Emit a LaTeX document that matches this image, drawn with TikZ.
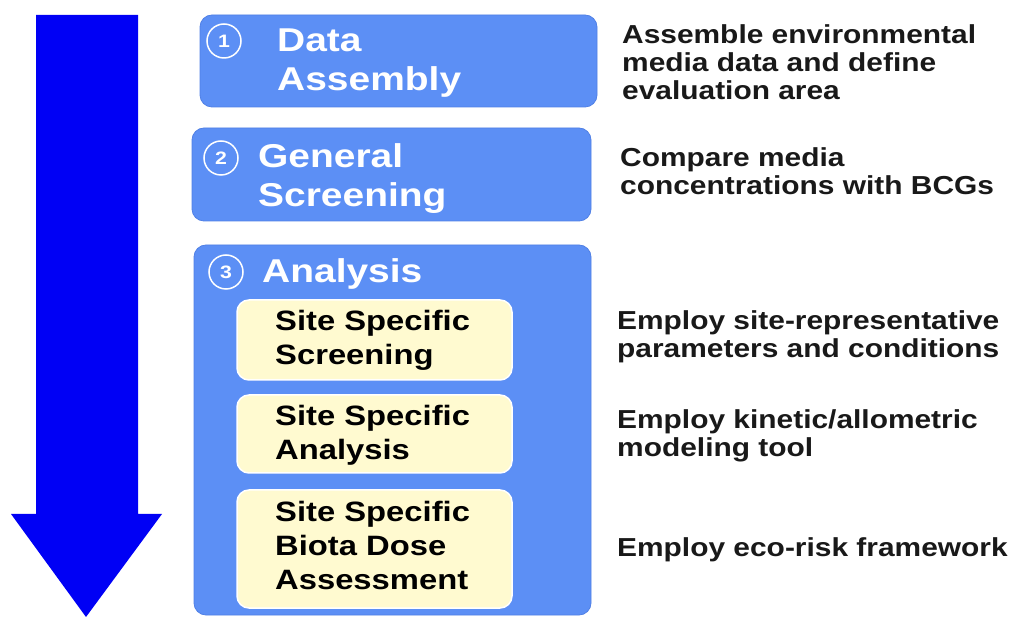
\documentclass[tikz,border=0pt]{standalone}
\usepackage{fontspec}
\newfontfamily\titlefont[FakeStretch=1.18]{Liberation Sans}
\newfontfamily\yelfont[FakeStretch=1.17]{Liberation Sans}
\newfontfamily\descfont[FakeStretch=1.15]{Liberation Sans}
\definecolor{boxblue}{RGB}{92,143,245}
\definecolor{boxedge}{RGB}{80,128,230}
\definecolor{yelfill}{RGB}{255,250,208}
\definecolor{arrowblue}{RGB}{0,0,245}
\definecolor{desctext}{RGB}{25,25,25}
\tikzset{
  bluebox/.style={fill=boxblue, draw=boxedge, line width=0.8pt, rounded corners=12pt},
  yelbox/.style={fill=yelfill, draw=white, line width=1.5pt, rounded corners=12pt},
  title/.style={anchor=base west, inner sep=0pt, align=left, text=white,
    font=\titlefont\bfseries\fontsize{33}{39}\selectfont},
  yeltext/.style={anchor=base west, inner sep=0pt, align=left, text=black,
    font=\yelfont\bfseries\fontsize{28}{34}\selectfont},
  desc/.style={anchor=base west, inner sep=0pt, align=left, text=desctext,
    font=\descfont\bfseries\fontsize{26}{28}\selectfont},
  numcirc/.style={circle, draw=white, line width=1.5pt, minimum size=34pt, inner sep=0pt,
    text=white, font=\titlefont\bfseries\fontsize{18}{18}\selectfont}
}
\begin{document}
\begin{tikzpicture}[x=1pt,y=-1pt]
\useasboundingbox (0,0) rectangle (1013,617);
\fill[white] (0,0) rectangle (1013,617);
% big arrow
\fill[arrowblue] (36,15) -- (138,15) -- (138,514) -- (162,514) -- (86,617)
  -- (11,514) -- (36,514) -- cycle;
% step boxes
\draw[bluebox] (200,15) rectangle (597,107);
\draw[bluebox] (192,128) rectangle (591,221);
\draw[bluebox] (194,245) rectangle (591,615);
\draw[yelbox] (237,300) rectangle (512,380);
\draw[yelbox] (237,395) rectangle (512,473);
\draw[yelbox] (237,490) rectangle (512,608);
% numbers
\node[numcirc] (c1) at (224,41) {1};
\node[numcirc] (c2) at (221,158) {2};
\node[numcirc] (c3) at (226,272) {3};
% titles (anchor = baseline of last line)
\node[title] (t1) at (277,91) {Data\\Assembly};
\node[title] (t2) at (258,207) {General\\Screening};
\node[title] (t3) at (262,283) {Analysis};
% sub-steps
\node[yeltext] (s1) at (275,365) {Site Specific\\Screening};
\node[yeltext] (s2) at (275,460) {Site Specific\\Analysis};
\node[yeltext] (s3) at (275,590) {Site Specific\\Biota Dose\\Assessment};
% descriptions
\node[desc] (d1) at (622,100) {Assemble environmental\\media data and define\\evaluation area};
\node[desc] (d2) at (620,195) {Compare media\\concentrations with BCGs};
\node[desc] (d3) at (617,358) {Employ site-representative\\parameters and conditions};
\node[desc] (d4) at (617,457) {Employ kinetic/allometric\\modeling tool};
\node[desc] (d5) at (617,557) {Employ eco-risk framework};
\end{tikzpicture}
\end{document}
